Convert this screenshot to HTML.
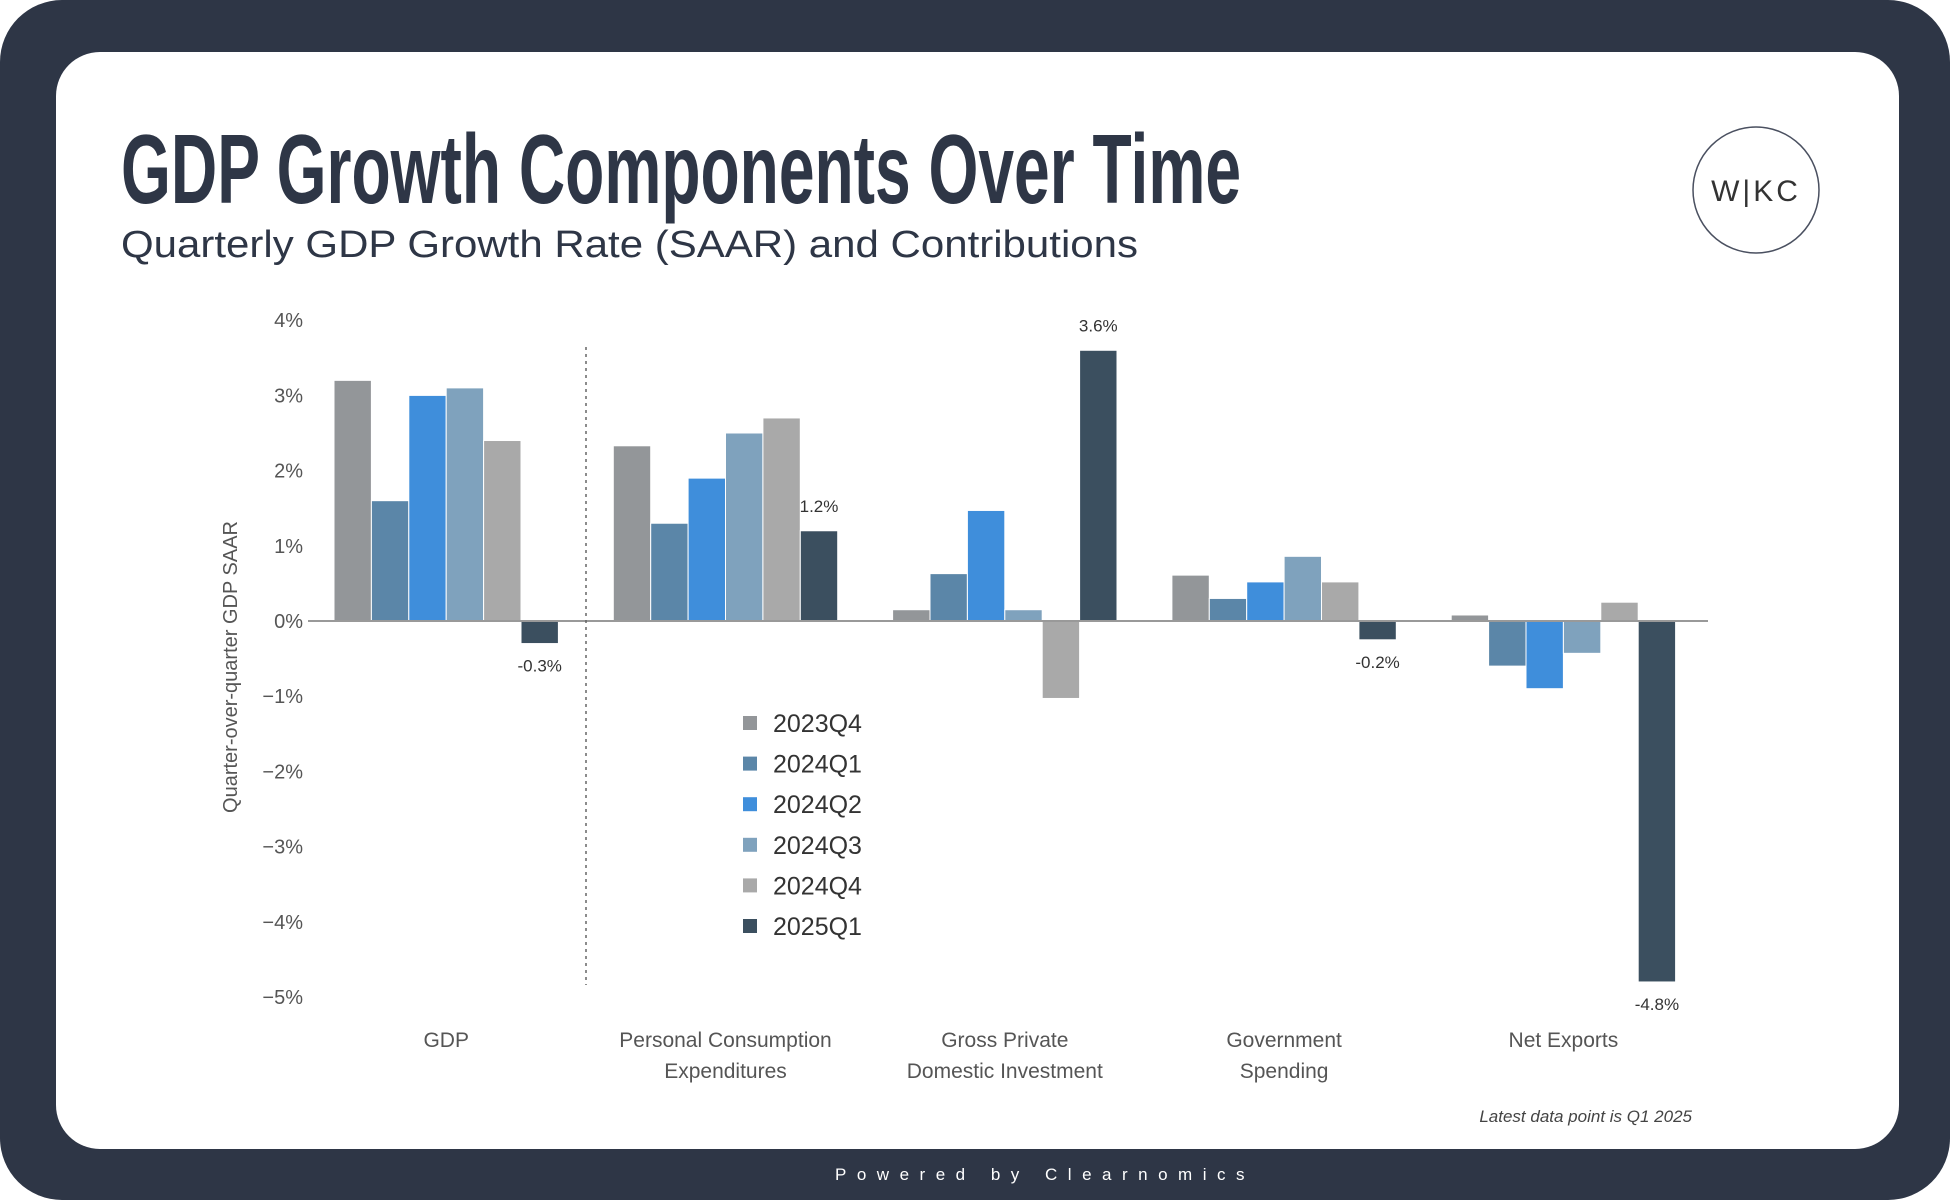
<!DOCTYPE html>
<html><head><meta charset="utf-8"><style>
html,body{margin:0;padding:0;width:1950px;height:1200px;background:#fff;overflow:hidden}
svg text{font-family:"Liberation Sans",sans-serif}
</style></head><body>
<svg id="chart" width="1950" height="1200" viewBox="0 0 1950 1200" xmlns="http://www.w3.org/2000/svg">
<rect x="0" y="0" width="1950" height="1200" rx="62" fill="#2e3646"/>
<rect x="56" y="52" width="1843" height="1097" rx="44" fill="#fff"/>
<text x="121" y="203" font-size="98" font-weight="bold" fill="#2e3646" textLength="1120" lengthAdjust="spacingAndGlyphs" style="font-family:'Liberation Sans Narrow','Liberation Sans',sans-serif">GDP Growth Components Over Time</text>
<text x="121" y="257" font-size="38" fill="#2e3646" textLength="1017" lengthAdjust="spacingAndGlyphs">Quarterly GDP Growth Rate (SAAR) and Contributions</text>
<g>
<circle cx="1756" cy="190" r="63" fill="none" stroke="#4a5060" stroke-width="1.5"/>
<text x="1756" y="201" font-size="30" fill="#333" text-anchor="middle" letter-spacing="3">W|KC</text>
</g>
<g id="plot"></g>
<text x="1692" y="1122" font-size="17" fill="#444" font-style="italic" text-anchor="end">Latest data point is Q1 2025</text>
<text x="1045" y="1180" font-size="17" fill="#fff" text-anchor="middle" letter-spacing="10.5">Powered by Clearnomics</text>
</svg>
<script>
const categories = [["GDP"],["Personal Consumption","Expenditures"],["Gross Private","Domestic Investment"],["Government","Spending"],["Net Exports"]];
const seriesNames = ["2023Q4","2024Q1","2024Q2","2024Q3","2024Q4","2025Q1"];
const seriesColors = ["#939699","#5b86a8","#3f8edb","#7fa2bd","#a9a9a9","#3b4f5f"];
const s2023Q4 = [3.2, 2.33, 0.15, 0.61, 0.08];
const s2024Q1 = [1.6, 1.3, 0.63, 0.3, -0.6];
const s2024Q2 = [3.0, 1.9, 1.47, 0.52, -0.9];
const s2024Q3 = [3.1, 2.5, 0.15, 0.86, -0.43];
const s2024Q4 = [2.4, 2.7, -1.03, 0.52, 0.25];
const s2025Q1 = [-0.3, 1.2, 3.6, -0.25, -4.8];
const valueLabels = ["-0.3%","1.2%","3.6%","-0.2%","-4.8%"];
const yTicks = [4,3,2,1,0,-1,-2,-3,-4,-5];
const yTickLabels = ["4%","3%","2%","1%","0%","\u22121%","\u22122%","\u22123%","\u22124%","\u22125%"];

const NS="http://www.w3.org/2000/svg";
const plot=document.getElementById('plot');
const series=[s2023Q4,s2024Q1,s2024Q2,s2024Q3,s2024Q4,s2025Q1];
const y0=621, perUnit=75.2;
const yScale=v=>y0-v*perUnit;
const groupStart=334, groupStep=279.3, barW=37.4;
const xBar=(g,s)=>groupStart+g*groupStep+s*barW;
function mk(tag,attrs,parent){const e=document.createElementNS(NS,tag);for(const k in attrs)e.setAttribute(k,attrs[k]);(parent||plot).appendChild(e);return e;}

yTicks.forEach((t,i)=>{
  const e=mk('text',{x:303,y:yScale(t)+7,'font-size':20,fill:'#555','text-anchor':'end'});
  
  
  e.textContent=yTickLabels[i];
});
const yt=mk('text',{x:0,y:0,'font-size':20,fill:'#555','text-anchor':'middle',transform:'translate(237,667) rotate(-90)'});


yt.textContent='Quarter-over-quarter GDP SAAR';

series.forEach((vals,s)=>{
  vals.forEach((v,g)=>{
    const x=xBar(g,s), yv=yScale(v);
    const r=mk('rect',{x:x,y:Math.min(yv,y0),width:barW,height:Math.abs(yv-y0),fill:seriesColors[s],stroke:'#fff','stroke-width':1});
    
    
  });
});
const ax=mk('line',{x1:308,x2:1708,y1:y0,y2:y0,stroke:'#999','stroke-width':2});


const dl=mk('line',{x1:586,x2:586,y1:347,y2:985,stroke:'#666','stroke-width':1.5,'stroke-dasharray':'3,4'});



s2025Q1.forEach((v,g)=>{
  const x=xBar(g,5)+barW/2, yv=yScale(v);
  const e=mk('text',{x:x,y:v>=0?yv-19:yv+28,'font-size':17,fill:'#333','text-anchor':'middle','font-family':'Liberation Sans Narrow, Liberation Sans, sans-serif'});
  
  
  e.textContent=valueLabels[g];
});

categories.forEach((lines,g)=>{
  const cx=groupStart+g*groupStep+3*barW;
  lines.forEach((ln,i)=>{
    const e=mk('text',{x:cx,y:1047+i*31,'font-size':21,fill:'#555','text-anchor':'middle'});
    
    
    e.textContent=ln;
  });
});

seriesNames.forEach((n,i)=>{
  const yy=723+i*40.6;
  const sq=mk('rect',{x:743,y:yy-7,width:14,height:14,fill:seriesColors[i]});
  
  
  const t=mk('text',{x:773,y:yy+9,'font-size':25,fill:'#333'});
  
  
  t.textContent=n;
});
</script>
</body></html>
